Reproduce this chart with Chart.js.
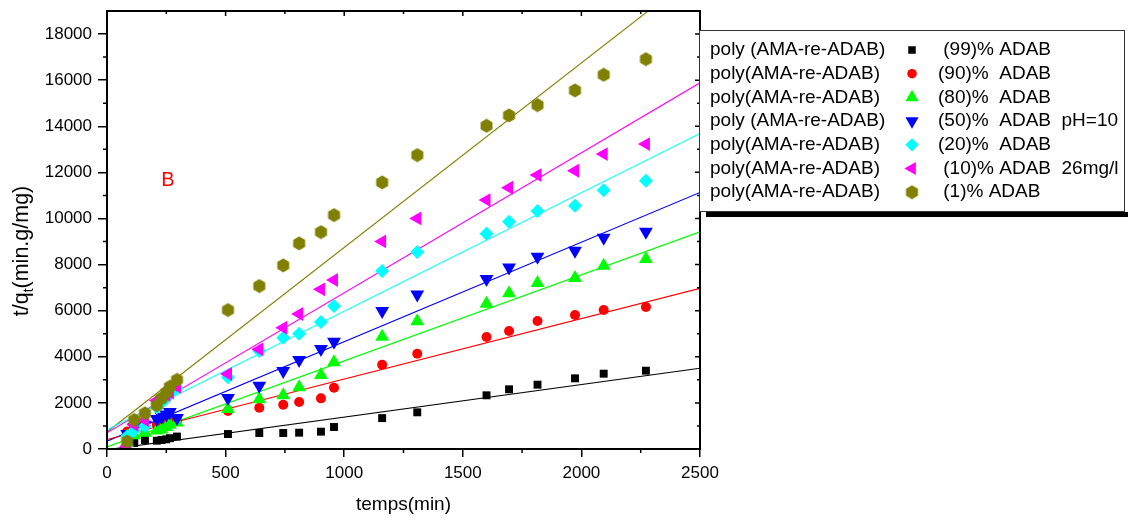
<!DOCTYPE html>
<html>
<head>
<meta charset="utf-8">
<script src="https://cdn.jsdelivr.net/npm/chart.js@4.4.1/dist/chart.umd.min.js"></script>
<style>
  html, body { margin: 0; padding: 0; background: #fff; }
  #wrap { width: 1128px; height: 520px; position: relative; }
</style>
</head>
<body>
<div id="wrap"><canvas id="kinetics"></canvas></div>
<script>
// contact time (min)
const times = [85, 115, 160, 210, 230, 250, 265, 295, 510, 642, 743, 810, 902, 957,
               1160, 1308, 1600, 1695, 1815, 1973, 2094, 2272];

// t/qt for each ADAB fraction
const adab99 = [150, 260, 390, 360, 390, 420, 470, 540, 650, 694, 694, 708, 752, 954,
                1340, 1591, 2329, 2589, 2790, 3065, 3267, 3397];
const adab90 = [760, 950, 1000, 1050, 1100, 1150, 1200, 1250, 1648, 1792, 1922, 2038, 2197, 2660,
                3656, 4133, 4857, 5117, 5551, 5811, 6028, 6158];
const adab80 = [250, 600, 700, 800, 850, 950, 1050, 1150, 1735, 2154, 2329, 2676, 3209, 3760,
                4871, 5537, 6302, 6751, 7199, 7416, 7950, 8240];
const adab50 = [650, 950, 1050, 1300, 1400, 1500, 1600, 1344, 2212, 2747, 3382, 3860, 4337, 4654,
                5984, 6707, 7372, 7878, 8340, 8601, 9164, 9424];
const adab20 = [550, 800, 1000, 1800, 2000, 2200, 2400, 2650, 3109, 4250, 4827, 5000, 5507, 6201,
                7719, 8543, 9337, 9857, 10321, 10551, 11219, 11635];
const adab10 = [120, 1050, 1250, 2100, 2250, 2350, 2450, 2700, 3252, 4323, 5260, 5854, 6925, 7329,
                9005, 10004, 10798, 11332, 11882, 12069, 12793, 13226];
const adab1 = [330, 1260, 1550, 1900, 2200, 2450, 2700, 3000, 6028, 7069, 7966, 8920, 9410, 10147,
               11565, 12749, 14021, 14471, 14918, 15555, 16232, 16912];

// linear fits, value at t = 0 and t = 2500
const fitTimes = [0, 2500];
const fit99 = [-30, 3500];
const fit90 = [410, 6968];
const fit80 = [90, 9420];
const fit50 = [340, 11130];
const fit20 = [830, 13690];
const fit10 = [700, 15885];
const fit1 = [740, 20750];

const seriesNames = ['poly (AMA-re-ADAB)', 'poly(AMA-re-ADAB)', 'poly(AMA-re-ADAB)', 'poly (AMA-re-ADAB)',
                     'poly(AMA-re-ADAB)', 'poly(AMA-re-ADAB)', 'poly(AMA-re-ADAB)'];
const seriesNotes = [' (99)% ADAB', '(90)%  ADAB', '(80)%  ADAB', '(50)%  ADAB  pH=10',
                     '(20)%  ADAB', ' (10)% ADAB  26mg/l', ' (1)% ADAB'];

const yTickValues = [0, 2000, 4000, 6000, 8000, 10000, 12000, 14000, 16000, 18000];
const xTickValues = [0, 500, 1000, 1500, 2000, 2500];

const FONT = 'Arial, "Liberation Sans", sans-serif';

// hexagon marker for the 1% series
const hexagon = document.createElement('canvas');
hexagon.width = 15;
hexagon.height = 15;
(function () {
    const h = hexagon.getContext('2d');
    h.fillStyle = '#808000';
    h.beginPath();
    for (let i = 0; i < 6; i++) {
        const a = Math.PI / 3 * i;
        const px = 7.5 + 6.9 * Math.sin(a);
        const py = 7.5 - 6.9 * Math.cos(a);
        if (i === 0) h.moveTo(px, py); else h.lineTo(px, py);
    }
    h.closePath();
    h.fill();
})();

const colors = ['#000000', '#ff0000', '#00ff00', '#0000ff', '#00ffff', '#ff00ff', '#808000'];
const markers = [
    { pointStyle: 'rect', radius: 5.6, rotation: 0 },
    { pointStyle: 'circle', radius: 5, rotation: 0 },
    { pointStyle: 'triangle', radius: 8, rotation: 0 },
    { pointStyle: 'triangle', radius: 8, rotation: 180 },
    { pointStyle: 'rectRot', radius: 7, rotation: 0 },
    { pointStyle: 'triangle', radius: 8, rotation: 270 },
    { pointStyle: hexagon, radius: 7, rotation: 0 }
];

const seriesValues = [adab99, adab90, adab80, adab50, adab20, adab10, adab1];
const fitValues = [fit99, fit90, fit80, fit50, fit20, fit10, fit1];

// later series sit on top of earlier ones, fit lines underneath everything
const datasets = [];
seriesValues.forEach((vals, i) => {
    datasets.push({
        label: seriesNames[i] + ' ' + seriesNotes[i].trim(),
        data: times.map((t, k) => ({ x: t, y: vals[k] })),
        backgroundColor: colors[i],
        borderColor: colors[i],
        pointStyle: markers[i].pointStyle,
        pointRadius: markers[i].radius,
        pointRotation: markers[i].rotation,
        pointBorderWidth: 0,
        showLine: false,
        order: seriesValues.length - i
    });
});
fitValues.forEach((vals, i) => {
    datasets.push({
        label: 'fit ' + i,
        data: fitTimes.map((t, k) => ({ x: t, y: vals[k] })),
        borderColor: colors[i],
        borderWidth: 1.1,
        pointRadius: 0,
        showLine: true,
        order: 20
    });
});

// box, mirrored ticks, legend and free text
const decorations = {
    id: 'decorations',
    afterDraw(chart) {
        const { ctx, chartArea: a, scales: { x, y } } = chart;
        ctx.save();
        ctx.strokeStyle = '#000';
        ctx.lineWidth = 1.5;
        ctx.beginPath();
        for (let v = 0; v <= 2500; v += 250) {
            const px = x.getPixelForValue(v);
            const major = v % 500 === 0;
            if (!major) { ctx.moveTo(px, a.bottom); ctx.lineTo(px, a.bottom + 4); }
            ctx.moveTo(px, a.top); ctx.lineTo(px, a.top + (major ? 5 : 3));
        }
        for (let v = 0; v <= 18000; v += 1000) {
            const py = y.getPixelForValue(v);
            const major = v % 2000 === 0;
            if (!major) { ctx.moveTo(a.left, py); ctx.lineTo(a.left - 4, py); }
            ctx.moveTo(a.right, py); ctx.lineTo(a.right - (major ? 5 : 3), py);
        }
        ctx.stroke();
        ctx.lineWidth = 2;
        ctx.strokeRect(a.left, a.top, a.right - a.left, a.bottom - a.top);

        // legend box with shadow
        const lx = a.right - 1, ly = 30, lw = 426, lh = 182;
        ctx.fillStyle = '#000';
        ctx.fillRect(lx + 7, ly + lh, lw, 5);
        ctx.fillStyle = '#fff';
        ctx.fillRect(lx, ly, lw, lh);
        ctx.strokeStyle = '#333';
        ctx.lineWidth = 1;
        ctx.strokeRect(lx + 0.5, ly + 0.5, lw - 1, lh - 1);

        ctx.font = '19px ' + FONT;
        ctx.textBaseline = 'middle';
        ctx.textAlign = 'left';
        for (let i = 0; i < seriesNames.length; i++) {
            const ry = ly + 20 + i * 23.7;
            ctx.fillStyle = '#000';
            ctx.fillText(seriesNames[i], lx + 11, ry);
            ctx.fillText(seriesNotes[i], lx + 239, ry);
            ctx.fillStyle = colors[i];
            Chart.helpers.drawPoint(ctx, {
                pointStyle: markers[i].pointStyle,
                rotation: markers[i].rotation,
                radius: markers[i].radius * 0.95,
                borderWidth: 0
            }, lx + 213, ry);
        }

        // panel letter
        ctx.fillStyle = '#ff0000';
        ctx.font = '20px ' + FONT;
        ctx.textAlign = 'center';
        ctx.fillText('B', 168, 180);

        // axis titles
        ctx.fillStyle = '#000';
        ctx.font = '19px ' + FONT;
        ctx.textBaseline = 'middle';
        ctx.fillText('temps(min)', (a.left + a.right) / 2, 505);

        ctx.save();
        ctx.translate(21, 251);
        ctx.rotate(-Math.PI / 2);
        ctx.textAlign = 'left';
        ctx.textBaseline = 'alphabetic';
        const big = '21.5px ' + FONT, small = '14px ' + FONT;
        ctx.font = big;
        const w1 = ctx.measureText('t/q').width;
        const w3 = ctx.measureText('(min.g/mg)').width;
        ctx.font = small;
        const w2 = ctx.measureText('t').width;
        let cx = -(w1 + w2 + w3) / 2;
        ctx.font = big;
        ctx.fillText('t/q', cx, 7);
        cx += w1;
        ctx.font = small;
        ctx.fillText('t', cx, 12);
        cx += w2;
        ctx.font = big;
        ctx.fillText('(min.g/mg)', cx, 7);
        ctx.restore();

        ctx.restore();
    }
};

new Chart(document.getElementById('kinetics').getContext('2d'), {
    type: 'scatter',
    data: { datasets: datasets },
    options: {
        responsive: true,
        maintainAspectRatio: false,
        animation: false,
        layout: { padding: { top: 11, right: 428, left: 0, bottom: 0 } },
        plugins: {
            legend: { display: false },
            tooltip: { enabled: false }
        },
        scales: {
            x: {
                type: 'linear',
                min: 0,
                max: 2500,
                afterFit: s => { s.height = 71; },
                afterBuildTicks: s => { s.ticks = xTickValues.map(v => ({ value: v })); },
                ticks: {
                    color: '#000',
                    font: { size: 17, family: FONT },
                    padding: 6,
                    maxRotation: 0,
                    callback: v => String(v)
                },
                grid: { drawOnChartArea: false, color: '#000', tickLength: 8, lineWidth: 1.5 },
                border: { color: '#000', width: 2 }
            },
            y: {
                type: 'linear',
                min: 0,
                max: 19000,
                afterFit: s => { s.width = 107; s.paddingTop = 0; s.paddingBottom = 0; },
                afterBuildTicks: s => { s.ticks = yTickValues.map(v => ({ value: v })); },
                ticks: {
                    color: '#000',
                    font: { size: 17, family: FONT },
                    padding: 6,
                    callback: v => String(v)
                },
                grid: { drawOnChartArea: false, color: '#000', tickLength: 9, lineWidth: 1.5 },
                border: { color: '#000', width: 2 }
            }
        }
    },
    plugins: [decorations]
});
</script>
</body>
</html>
